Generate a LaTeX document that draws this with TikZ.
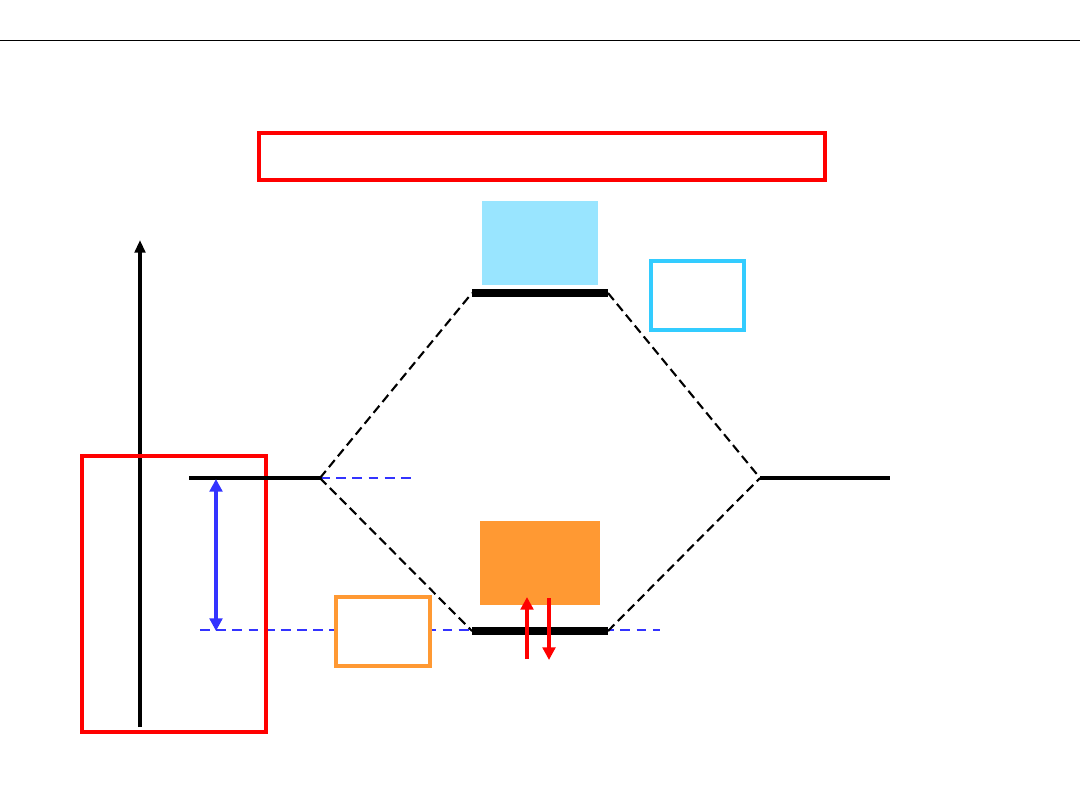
\documentclass[tikz,border=0pt]{standalone}
\usepackage{xcolor}
\usetikzlibrary{arrows.meta}

\definecolor{boxred}{HTML}{FF0000}
\definecolor{levblue}{HTML}{3333FF}
\definecolor{homoorange}{HTML}{FF9933}
\definecolor{lumoblue}{HTML}{99E5FF}
\definecolor{lumoframe}{HTML}{33CCFF}

\begin{document}
\begin{tikzpicture}[
    x=0.025cm, y=-0.025cm,
    frame/.style={line width=2.9pt},
    level/.style={line width=3.3pt, black},
    molevel/.style={line width=5.8pt, black},
    corr/.style={line width=1.5pt, black, dash pattern=on 6.5pt off 3.5pt},
    guide/.style={line width=1.5pt, levblue, dash pattern=on 7pt off 4.5pt},
    gap/.style={{Triangle[width=9pt,length=9pt]}-{Triangle[width=9pt,length=9pt]}, line width=2.3pt, levblue},
    spin/.style={-{Triangle[width=9pt,length=9pt]}, line width=2.3pt, red},
]
% page frame
\useasboundingbox[fill=white] (0,0) rectangle (1080,810);
\draw[line width=0.7pt] (0,40) -- (1080,40);

% energy axis
\coordinate (axbot) at (140,727);
\coordinate (axtop) at (140,240);
\draw[-{Triangle[width=7.5pt,length=9pt]}, line width=2.3pt] (axbot) -- (axtop);

% atomic levels (left / right)
\coordinate (aoL1) at (189,478);
\coordinate (aoL2) at (320,478);
\coordinate (aoR1) at (760,478);
\coordinate (aoR2) at (890,478);

% molecular levels
\coordinate (lumo1) at (472,293);
\coordinate (lumo2) at (608,293);
\coordinate (homo1) at (472,631);
\coordinate (homo2) at (608,631);

% reference guides
\coordinate (guideA) at (415,478);
\coordinate (guideB) at (200,630);
\coordinate (guideC) at (660,630);
\draw[guide] (aoL2) -- (guideA);
\draw[guide] (guideB) -- (guideC);

% correlation lines
\draw[corr] (aoL2) -- (lumo1);
\draw[corr] (aoL2) -- (homo1);
\draw[corr] (lumo2) -- (aoR1);
\draw[corr] (homo2) -- (aoR1);

% empty label frames
\draw[frame, boxred] (259,133) rectangle (825,180);
\draw[frame, boxred] (82,456) rectangle (266,732);
\draw[frame, homoorange, fill=white] (336,597) rectangle (430,666);
\draw[frame, lumoframe, fill=white] (651,261) rectangle (744,330);

% filled blocks
\fill[lumoblue] (482,201) rectangle (598,285);
\fill[homoorange] (480,521) rectangle (600,605);

% levels
\draw[level] (aoL1) -- (aoL2);
\draw[level] (aoR1) -- (aoR2);
\draw[molevel] (lumo1) -- (lumo2);
\draw[molevel] (homo1) -- (homo2);

% gap arrow
\coordinate (gaptop) at (216,479);
\coordinate (gapbot) at (216,631);
\draw[gap] (gaptop) -- (gapbot);

% electron pair
\coordinate (eup1) at (527,659);
\coordinate (eup2) at (527,597);
\coordinate (edn1) at (549,598);
\coordinate (edn2) at (549,660);
\draw[spin] (eup1) -- (eup2);
\draw[spin] (edn1) -- (edn2);
\end{tikzpicture}
\end{document}
